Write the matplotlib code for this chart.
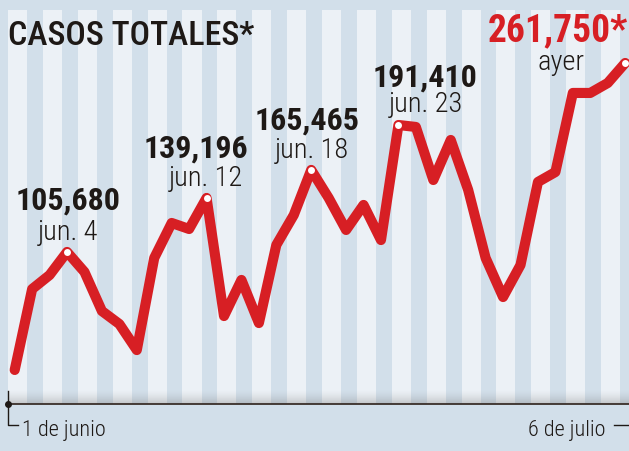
import numpy as np
import matplotlib.pyplot as plt
from matplotlib.colors import LinearSegmentedColormap

# casos (miles), 1 de junio -> 6 de julio
dias = list(range(36))
casos = [3.0, 68.9, 80.3, 99.1, 82.8, 51.0, 40.4, 19.2, 94.2, 122.7,
         117.8, 143.1, 46.9, 76.3, 41.2, 104.8, 129.2, 165.9, 143.1, 117.0,
         137.4, 108.8, 202.5, 200.9, 157.7, 190.3, 149.6, 94.2, 62.4, 88.5,
         156.1, 164.2, 228.6, 228.6, 236.7, 253.0]

destacados = [3, 11, 17, 22, 35]
valores = ["105,680", "139,196", "165,465", "191,410", "261,750*"]
fechas = ["jun. 4", "jun. 12", "jun. 18", "jun. 23", "ayer"]

RED = "#d71f24"
INK = "#1e1916"
LIGHT = "#ecf1f6"
DARK = "#d2dfea"
W, H = 629, 451

plt.rcParams["font.family"] = ["Roboto Condensed", "DejaVu Sans"]

fig = plt.figure(figsize=(W / 100, H / 100), dpi=100, facecolor=DARK)
ax = fig.add_axes([0, 0, 1, 1])
ax.set_facecolor(DARK)
ax.set_xlim(-0.843, 35.22)
ax.set_ylim(-63.0, 304.3)
ax.axis("off")


def fx(px):
    return px / W


def fy(py):
    return 1 - py / H


def dy(py):
    return 172.7 - 0.8145 * (py - 161.6)


# franjas por dia
for d in range(0, 36, 2):
    ax.axvspan(d - 0.38, d + 0.71, ymin=fy(404), ymax=fy(10), color=LIGHT, lw=0, zorder=0)

# sombra sobre el eje
grad = np.linspace(0, 1, 50).reshape(-1, 1) ** 1.5
cmap = LinearSegmentedColormap.from_list("sh", [(0.5, 0.5, 0.5, 0.0), (0.45, 0.45, 0.45, 0.35)])
ax.imshow(grad, cmap=cmap, aspect="auto", origin="upper",
          extent=(-0.843 + 8 / 17.44, 35.22, dy(404), dy(390)), zorder=1)

# eje
ax.plot([fx(8), 1], [fy(404), fy(404)], color="#3a2f2a", lw=1.3, transform=ax.transAxes, zorder=2)
ax.plot([fx(8)], [fy(404)], "o", color=INK, ms=4, transform=ax.transAxes, zorder=3)
ax.plot([fx(8), fx(8), fx(18)], [fy(391), fy(425), fy(425)], color=INK, lw=1.0,
        transform=ax.transAxes, zorder=3)
ax.plot([fx(614), fx(629)], [fy(425), fy(425)], color=INK, lw=1.0, transform=ax.transAxes, zorder=3)

ax.plot(dias, casos, color=RED, lw=7.3, solid_capstyle="round", solid_joinstyle="round", zorder=4)
ax.plot([dias[i] for i in destacados], [casos[i] for i in destacados], "o",
        color="white", ms=5, mec="none", zorder=5)

fig.text(fx(8), fy(45), "CASOS TOTALES*", fontsize=24.5, fontweight=500, color=INK)

num_pos = [(68, 210), (196, 158), (307, 130), (425, 87), (558, 41)]
fecha_pos = [(68, 240), (206, 186), (312, 158), (426, 112), (561, 70)]
for k in range(len(valores)):
    col = RED if k == 4 else INK
    fs = 27 if k == 4 else 23
    fig.text(fx(num_pos[k][0]), fy(num_pos[k][1]), valores[k], ha="center", va="baseline",
             fontsize=fs, fontweight="bold", color=col)
    fig.text(fx(fecha_pos[k][0]), fy(fecha_pos[k][1]), fechas[k], ha="center", va="baseline",
             fontsize=20.5, fontweight=300, color=INK)

fig.text(fx(22), fy(436), "1 de junio", fontsize=16, fontweight=300, color=INK, va="baseline")
fig.text(fx(606), fy(436), "6 de julio", fontsize=16, fontweight=300, color=INK, va="baseline", ha="right")

fig.savefig("out.png", dpi=100, facecolor=DARK)
